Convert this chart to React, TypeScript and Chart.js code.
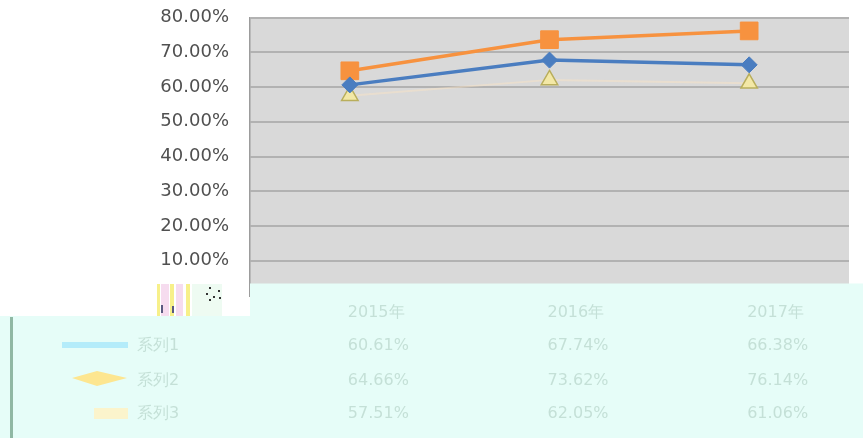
import React, { useEffect, useRef } from "react";
import { Chart, registerables } from "chart.js";

Chart.register(...registerables);

const categories = ["2015年", "2016年", "2017年"];
const seriesNames = ["系列1", "系列2", "系列3"];
const seriesBlue = [60.61, 67.74, 66.38];
const seriesOrange = [64.66, 73.62, 76.14];
const seriesYellow = [57.51, 62.05, 61.06];
const yMin = 0;
const yMax = 80;
const yStep = 10;

const W = 863;
const H = 438;
const FONT = '"DejaVu Sans", "Open Sans", sans-serif';

const plotBg = {
  id: "plotBg",
  beforeDraw(chart: any) {
    const { ctx, chartArea } = chart;
    ctx.save();
    ctx.fillStyle = "#ffffff";
    ctx.fillRect(0, 0, chart.width, chart.height);
    ctx.fillStyle = "#d9d9d9";
    ctx.fillRect(chartArea.left, chartArea.top, chartArea.right - chartArea.left, chartArea.bottom - chartArea.top);
    ctx.restore();
  },
};

const tableOverlay = {
  id: "tableOverlay",
  afterDraw(chart: any) {
    const { ctx, chartArea } = chart;
    const xs = chart.scales.x;
    ctx.save();
    const cyan = "#e6fdf8";
    ctx.fillStyle = cyan;
    ctx.fillRect(chartArea.left, 283.5, W - chartArea.left, H - 283.5);
    ctx.fillRect(0, 316, W, H - 316);

    // garbled remnants near the axis corner
    const stripes: [number, number, string][] = [
      [157, 3, "#f7f08a"],
      [161, 8, "#f6dcef"],
      [170, 4, "#f7f08a"],
      [176, 7, "#f6dcef"],
      [186, 4, "#f7f08a"],
    ];
    stripes.forEach(([x, w, c]) => {
      ctx.fillStyle = c;
      ctx.fillRect(x, 284, w, 32);
    });
    ctx.fillStyle = "#eefbf2";
    ctx.fillRect(192, 284, 30, 32);
    ctx.fillStyle = "#5a5a80";
    ctx.fillRect(161, 305, 2, 8);
    ctx.fillRect(172, 306, 2, 7);
    ctx.fillStyle = "#333";
    [[209, 287], [218, 290], [206, 293], [213, 296], [219, 297], [209, 299]].forEach(([x, y]) => ctx.fillRect(x, y, 2, 2));

    // left rule of the table
    ctx.fillStyle = "#90b8a4";
    ctx.fillRect(10, 317, 3, H - 317);

    // legend keys
    ctx.fillStyle = "#b4ecfa";
    ctx.fillRect(62, 342, 66, 6);
    ctx.fillStyle = "#fde690";
    ctx.beginPath();
    ctx.moveTo(72, 378);
    ctx.lineTo(97, 371);
    ctx.lineTo(127, 378);
    ctx.lineTo(97, 386);
    ctx.closePath();
    ctx.fill();
    ctx.fillStyle = "#fbf4cc";
    ctx.fillRect(94, 408, 34, 11);

    // table text
    ctx.fillStyle = "rgba(120,160,140,0.3)";
    ctx.font = `16px ${FONT}`;
    ctx.textBaseline = "middle";
    ctx.textAlign = "left";
    const rowsY = [346, 381, 414];
    const series = [seriesBlue, seriesOrange, seriesYellow];
    categories.forEach((c, i) => {
      const x = xs.getPixelForValue(i) - 2;
      ctx.fillText(c, x, 313);
      series.forEach((s, r) => ctx.fillText(s[i].toFixed(2) + "%", x, rowsY[r]));
    });
    seriesNames.forEach((n, r) => ctx.fillText(n, 137, rowsY[r]));
    ctx.restore();
  },
};

export default function App() {
  const ref = useRef<HTMLCanvasElement | null>(null);
  useEffect(() => {
    document.body.style.margin = "0";
    if (!ref.current) return;
    const chart = new Chart(ref.current, {
      type: "line",
      data: {
        labels: categories,
        datasets: [
          {
            label: seriesNames[0],
            data: seriesBlue,
            borderColor: "#4a7dc0",
            backgroundColor: "#4a7dc0",
            borderWidth: 3.5,
            pointStyle: "rectRot",
            pointRadius: 8,
            pointBorderWidth: 1,
          },
          {
            label: seriesNames[1],
            data: seriesOrange,
            borderColor: "#f7923f",
            backgroundColor: "#f7923f",
            borderWidth: 3.5,
            pointStyle: "rect",
            pointRadius: 12.5,
            pointBorderWidth: 1,
          },
          {
            label: seriesNames[2],
            data: seriesYellow,
            borderColor: "rgba(252,228,196,0.45)",
            backgroundColor: "#f3e8a6",
            pointBorderColor: "#b9ae5c",
            borderWidth: 2,
            pointStyle: "triangle",
            pointRadius: 9.5,
            pointBorderWidth: 1.5,
          },
        ],
      },
      options: {
        animation: false,
        responsive: false,
        maintainAspectRatio: false,
        layout: { padding: { left: 0, right: 14, top: 17.5, bottom: 142.5 } },
        plugins: { legend: { display: false }, tooltip: { enabled: false } },
        scales: {
          x: {
            display: false,
            offset: true,
            afterFit: (s: any) => {
              s.paddingTop = 0;
              s.paddingBottom = 0;
            },
          },
          y: {
            min: yMin,
            max: yMax,
            afterFit: (s: any) => {
              s.width = 250;
              s.paddingTop = 0;
              s.paddingBottom = 0;
            },
            ticks: {
              stepSize: yStep,
              padding: 21,
              color: "#505050",
              font: { family: FONT, size: 18 },
              callback: (v: any) => (Number(v) === 0 ? "" : Number(v).toFixed(2) + "%"),
            },
            grid: { color: "#b2b2b2", lineWidth: 2, drawTicks: false },
            border: { display: true, color: "#9c9c9c", width: 1.5 },
          },
        },
      },
      plugins: [plotBg, tableOverlay],
    });
    return () => chart.destroy();
  }, []);
  return (
    <div style={{ position: "absolute", left: 0, top: 0, width: W, height: H }}>
      <canvas ref={ref} width={W} height={H} style={{ width: W, height: H }} />
    </div>
  );
}
